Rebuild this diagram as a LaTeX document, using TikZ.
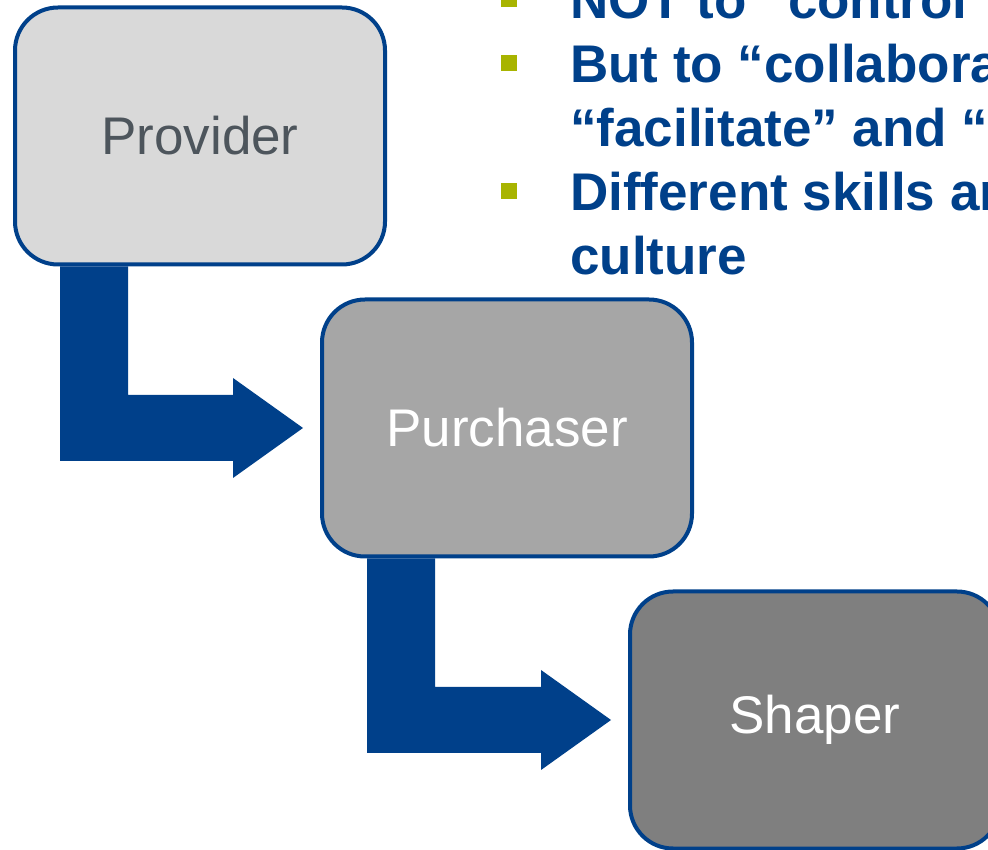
\documentclass[tikz,border=0pt]{standalone}
\usepackage{fontspec}
\setmainfont{Liberation Sans}
\usepackage{tikz}
\usetikzlibrary{positioning, calc}
\definecolor{roleblue}{RGB}{0,64,138}
\definecolor{bulletgreen}{RGB}{168,180,0}
\definecolor{providergray}{RGB}{217,217,217}
\definecolor{purchasergray}{RGB}{166,166,166}
\definecolor{shapergray}{RGB}{127,127,127}
\definecolor{labelgray}{RGB}{77,85,92}
\tikzset{x=1pt, y=1pt,
	role/.style={draw=roleblue, line width=4pt, rounded corners=43pt, minimum width=370pt, minimum height=257pt, inner sep=0pt, font=\fontsize{53}{60}\selectfont},
	flow/.style={fill=roleblue},
	bullet/.style={fill=bulletgreen},
	point/.style={anchor=base west, inner sep=0pt, text=roleblue, font=\fontsize{53}{64}\selectfont\bfseries}}
% bent arrow from the bottom of #1 to the left side of #2
\newcommand\lbend[2]{%
	\fill[flow] let \p1=(#1.south west), \p2=(#2.west) in
		(\x1+47,\y1) -- (\x1+115,\y1) -- (\x1+115,\y2+33) -- (\x2-87,\y2+33) -- (\x2-87,\y2+50)
		-- (\x2-17,\y2) -- (\x2-87,\y2-50) -- (\x2-87,\y2-33) -- (\x1+47,\y2-33) -- cycle;}

\begin{document}
\begin{tikzpicture}
	\useasboundingbox (0,0) rectangle (988,849);
	\clip (0,0) rectangle (988,849);
	\node[role, fill=providergray, text=labelgray] at (200,713) (Provider) {Provider};
	\node[role, fill=purchasergray, text=white] at (507,421) (Purchaser) {Purchaser};
	\node[role, fill=shapergray, text=white] at (815,129) (Shaper) {Shaper};
	\lbend{Provider}{Purchaser}
	\lbend{Purchaser}{Shaper}
	% bullet list, cut at the right edge
	\fill[bullet] (501,842) rectangle (517,858);
	\fill[bullet] (501,778) rectangle (517,794);
	\fill[bullet] (501,650) rectangle (517,666);
	\node[point] at (570,830) (Control) {NOT to “control”};
	\node[point] at (570,766) (Collaborate) {But to “collabora};
	\node[point] at (570,702) (Facilitate) {“facilitate” and “};
	\node[point] at (570,638) (Skills) {Different skills an};
	\node[point] at (570,574) (Culture) {culture};
\end{tikzpicture}
\end{document}
